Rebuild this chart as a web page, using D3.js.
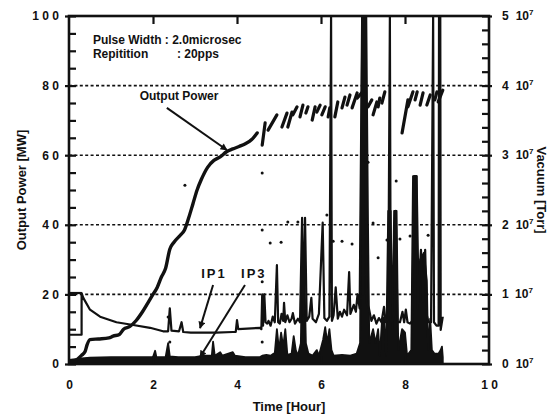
<!DOCTYPE html>
<html><head><meta charset="utf-8">
<script src="https://cdn.jsdelivr.net/npm/d3@7"></script>
<style>
html,body{margin:0;padding:0;background:#fff;}
text{font-family:"Liberation Sans",Arial,sans-serif;font-weight:bold;fill:#111;}
</style></head>
<body><svg id="chart" width="552" height="417"></svg>
<script>
// ---------- data ----------
const timeTicks = [0, 2, 4, 6, 8, 10];
const powerTicks = [0, 20, 40, 60, 80, 100];
const vacuumTicks = [0, 1, 2, 3, 4, 5];
const gridValues = [20, 40, 60, 80];

// Output power [MW] – continuous ramp (t [h], P)
const powerRamp = [[0,0.5],[0.15,1],[0.3,2.5],[0.38,3.5],[0.43,5.5],[0.5,7],[0.7,7.2],[0.95,7.5],[1.05,8],[1.2,8.5],[1.3,10],[1.45,10.8],[1.6,12.5],[1.75,15],[1.9,18],[2.0,20],[2.1,22],[2.2,25],[2.3,27.5],[2.4,33],[2.5,35],[2.65,37],[2.75,38.5],[2.85,42],[2.95,46],[3.05,50],[3.15,53],[3.3,56.5],[3.45,58.5],[3.6,59.5],[3.75,61],[3.9,61.8],[4.05,62.5],[4.2,63.3],[4.35,64.5],[4.48,66.4]];

// Output power – sawtooth strokes after 4.5 h: [t0, P0, t1, P1]
const powerStrokes = [[4.60,62.9,4.67,69.3],[4.74,67.2,4.95,71.6],[5.07,68.1,5.19,72.1],[5.21,68.1,5.31,72.4],[5.33,71.6,5.43,73.9],[5.50,71.0,5.57,74.4],[5.64,72.1,5.69,73.9],[5.79,70.1,5.86,73.9],[5.90,72.4,5.98,74.4],[6.02,71.6,6.10,73.9],[6.17,71.0,6.21,73.6],[6.33,71.0,6.40,75.3],[6.50,73.6,6.57,76.7],[6.62,74.4,6.69,77.3],[6.74,73.6,6.86,77.9],[6.86,76.4,7.00,78.4],[7.12,73.9,7.21,75.9],[7.24,71.6,7.33,75.3],[7.36,73.9,7.40,76.4],[7.45,75.0,7.52,78.2],[7.93,66.4,8.07,75.9],[8.07,73.9,8.19,78.2],[8.24,75.9,8.29,78.2],[8.36,74.4,8.43,77.9],[8.52,74.4,8.60,77.3],[8.71,75.9,8.76,78.2],[8.79,75.3,8.90,78.7]];

// Output power – isolated points
const powerDots = [[2.76,51.4],[4.6,54.9],[7.12,58],[7.05,58.6],[7.79,52.6],[6.14,42.8],[5.21,40.8],[5.45,40.8],[7.24,40.5],[4.6,38.5],[4.79,34.8],[5.05,35],[6.29,35.3],[6.5,35.3],[6.74,34.5],[7.36,30.5],[7.57,35.6],[7.88,35.9],[8.12,36.8],[8.55,37],[4.6,23.6],[4.6,6.3],[2.36,13.5],[2.4,6.3]];

// Vacuum [1e-7 Torr] – start segment
const ipStart = [[0,1.02],[0.3,1.02]];

// Vacuum IP1 [1e-7 Torr]
const ip1 = [[0,0.42],[0.3,0.42],[0.3,1.02],[0.34,0.95],[0.5,0.78],[0.74,0.68],[1.13,0.6],[1.53,0.56],[1.93,0.52],[2.24,0.47],[2.36,0.47],[2.4,0.8],[2.44,0.48],[2.62,0.47],[2.68,0.6],[2.72,0.46],[2.9,0.45],[3.12,0.45],[3.5,0.45],[3.9,0.46],[3.97,0.46],[4.0,0.63],[4.03,0.5],[4.55,0.52],[4.58,0.5],[4.6,1.0],[4.62,0.55],[4.65,1.0],[4.68,0.6],[4.72,0.58],[4.75,0.62],[4.8,0.55],[4.85,0.68],[4.9,0.6],[4.95,1.42],[4.98,0.6],[5.02,0.58],[5.06,0.72],[5.1,0.62],[5.12,0.88],[5.15,0.6],[5.2,0.7],[5.25,0.6],[5.3,0.65],[5.33,0.73],[5.38,0.58],[5.45,0.65],[5.5,0.6],[5.55,2.1],[5.58,0.7],[5.62,2.1],[5.66,0.62],[5.72,0.68],[5.77,0.95],[5.8,0.65],[5.88,0.6],[5.95,0.72],[6.04,2.03],[6.08,0.66],[6.14,0.62],[6.2,0.68],[6.24,5.0],[6.26,0.62],[6.3,0.7],[6.35,1.1],[6.4,0.65],[6.45,0.75],[6.5,0.68],[6.55,0.78],[6.62,0.7],[6.67,1.32],[6.7,0.72],[6.78,0.85],[6.83,0.75],[6.87,1.0],[6.92,0.8],[6.98,5.0],[7.0,1.0],[7.03,5.0],[7.06,5.0],[7.08,0.9],[7.14,0.8],[7.2,0.62],[7.26,0.7],[7.32,0.58],[7.38,0.66],[7.44,0.6],[7.5,0.82],[7.54,0.6],[7.6,0.65],[7.64,5.0],[7.66,0.6],[7.7,0.62],[7.74,0.7],[7.78,2.2],[7.82,0.6],[7.88,0.6],[7.94,0.75],[7.98,0.6],[8.02,0.78],[8.06,0.6],[8.12,0.58],[8.17,0.62],[8.22,2.7],[8.27,2.7],[8.3,0.8],[8.38,1.64],[8.43,0.9],[8.48,1.64],[8.52,0.7],[8.56,0.6],[8.62,0.6],[8.67,5.0],[8.69,0.6],[8.75,0.55],[8.8,0.55],[8.81,5.0],[8.84,5.0],[8.85,0.49],[8.9,0.68]];

// Vacuum IP3 [1e-7 Torr]
const ip3 = [[0,0.06],[0.3,0.08],[0.5,0.09],[1,0.1],[1.5,0.1],[2.0,0.1],[2.05,0.19],[2.08,0.1],[2.3,0.1],[2.36,0.3],[2.4,0.11],[2.6,0.1],[3.0,0.1],[3.2,0.12],[3.4,0.12],[3.43,0.32],[3.47,0.12],[3.6,0.17],[3.65,0.12],[3.9,0.17],[3.95,0.12],[4.2,0.1],[4.55,0.1],[4.6,0.12],[4.7,0.13],[4.8,0.12],[4.9,0.16],[4.95,0.5],[5.0,0.2],[5.05,0.45],[5.1,0.25],[5.15,0.5],[5.2,0.13],[5.3,0.15],[5.35,0.4],[5.4,0.2],[5.45,0.12],[5.52,0.3],[5.55,1.45],[5.6,1.45],[5.64,0.3],[5.7,0.15],[5.8,0.12],[5.9,0.2],[5.95,0.12],[6.05,0.35],[6.1,0.53],[6.15,0.3],[6.2,0.5],[6.25,0.2],[6.3,0.12],[6.5,0.13],[6.7,0.12],[6.85,0.15],[6.93,0.3],[6.95,2.2],[6.98,5],[7.08,5],[7.12,2.0],[7.15,0.3],[7.24,0.5],[7.3,0.3],[7.36,0.5],[7.4,0.12],[7.45,0.6],[7.5,0.67],[7.55,0.12],[7.6,2.2],[7.66,2.2],[7.7,0.5],[7.74,2.2],[7.8,2.2],[7.84,0.2],[7.93,0.5],[8.0,0.45],[8.05,0.12],[8.15,0.2],[8.19,2.7],[8.28,2.7],[8.32,1.2],[8.36,1.5],[8.45,1.6],[8.52,1.2],[8.55,0.2],[8.6,0.65],[8.64,0.2],[8.7,0.15],[8.8,0.15],[8.85,0.2],[8.88,0.25],[8.9,0.1]];

// ---------- chart ----------
const svg = d3.select("#chart");
const L = 69, R = 489, T = 16, B = 364;
const x = d3.scaleLinear().domain([0, 10]).range([L, R]);
const yP = d3.scaleLinear().domain([0, 100]).range([B, T]);
const yV = d3.scaleLinear().domain([0, 5]).range([B, T]);
const spaced = d => String(d).split("").join(" ");

svg.append("defs").append("clipPath").attr("id","clip")
  .append("rect").attr("x",L).attr("y",T).attr("width",R-L).attr("height",B-T);
svg.select("defs").append("marker").attr("id","arrow").attr("viewBox","0 0 10 10")
  .attr("refX",9).attr("refY",5).attr("markerWidth",9).attr("markerHeight",7)
  .attr("markerUnits","userSpaceOnUse").attr("orient","auto")
  .append("path").attr("d","M0,0 L10,5 L0,10 z").attr("fill","#111");

// grid
svg.append("g").selectAll("line").data(gridValues).join("line")
  .attr("x1",L).attr("x2",R).attr("y1",d=>yP(d)).attr("y2",d=>yP(d))
  .attr("stroke","#111").attr("stroke-width",1.6).attr("stroke-dasharray","3,2.4");

const plot = svg.append("g").attr("clip-path","url(#clip)");

// IP3 area
plot.append("path").datum(ip3)
  .attr("d", d3.area().x(d=>x(d[0])).y0(yV(0)).y1(d=>yV(d[1])))
  .attr("fill","#111").attr("stroke","#111").attr("stroke-width",1.8).attr("stroke-linejoin","round");

// IP1 line
const lineV = d3.line().x(d=>x(d[0])).y(d=>yV(d[1]));
plot.append("path").datum(ip1).attr("d",lineV)
  .attr("fill","none").attr("stroke","#111").attr("stroke-width",2.2).attr("stroke-linejoin","round");
plot.append("path").datum(ipStart).attr("d",lineV)
  .attr("fill","none").attr("stroke","#111").attr("stroke-width",2.2);

// output power
plot.append("path").datum(powerRamp)
  .attr("d", d3.line().x(d=>x(d[0])).y(d=>yP(d[1])).curve(d3.curveMonotoneX))
  .attr("fill","none").attr("stroke","#111").attr("stroke-width",3.4).attr("stroke-linecap","round");
plot.append("g").selectAll("line").data(powerStrokes).join("line")
  .attr("x1",d=>x(d[0])).attr("y1",d=>yP(d[1])).attr("x2",d=>x(d[2])).attr("y2",d=>yP(d[3]))
  .attr("stroke","#111").attr("stroke-width",3.2).attr("stroke-linecap","round");
plot.append("g").selectAll("circle").data(powerDots).join("circle")
  .attr("cx",d=>x(d[0])).attr("cy",d=>yP(d[1])).attr("r",1.5).attr("fill","#111");

// frame
svg.append("rect").attr("x",L).attr("y",T).attr("width",R-L).attr("height",B-T)
  .attr("fill","none").attr("stroke","#111").attr("stroke-width",2.6);

// left axis: minor inward ticks, labels
const gL = svg.append("g").attr("transform",`translate(${L},0)`)
  .call(d3.axisRight(yP).tickValues(d3.range(0,101,5)).tickSize(7).tickFormat(""));
const gL2 = svg.append("g").attr("transform",`translate(${L},0)`)
  .call(d3.axisLeft(yP).tickValues(powerTicks).tickSize(4).tickPadding(6).tickFormat(spaced));
// right axis
const gR = svg.append("g").attr("transform",`translate(${R},0)`)
  .call(d3.axisLeft(yV).tickValues(d3.range(0,5.01,0.2)).tickSize(7).tickFormat(""));
const gR2 = svg.append("g").attr("transform",`translate(${R},0)`)
  .call(d3.axisRight(yV).tickValues(vacuumTicks).tickSize(3).tickPadding(11).tickFormat(""));
// top & bottom axes
const gT = svg.append("g").attr("transform",`translate(0,${T})`)
  .call(d3.axisBottom(x).tickValues(timeTicks.slice(1,-1)).tickSize(8).tickFormat(""));
const gB = svg.append("g").attr("transform",`translate(0,${B})`)
  .call(d3.axisTop(x).tickValues(timeTicks.slice(1,-1)).tickSize(8).tickFormat(""));
const gB2 = svg.append("g").attr("transform",`translate(0,${B})`)
  .call(d3.axisBottom(x).tickValues(timeTicks).tickSize(0).tickPadding(16).tickFormat(spaced));

[gL,gL2,gR,gR2,gT,gB,gB2].forEach(g=>{
  g.select(".domain").remove();
  g.selectAll(".tick line").attr("stroke","#111").attr("stroke-width",2.2);
  g.selectAll(".tick text").attr("font-size",12).attr("font-family","Liberation Sans, Arial, sans-serif")
    .attr("font-weight","bold").attr("fill","#111");
});

// right labels "n 10^7"
const rl = svg.append("g").selectAll("text").data(vacuumTicks).join("text")
  .attr("x",R+13).attr("y",d=>yV(d)+4).attr("font-size",12);
rl.append("tspan").text(d=>d);
rl.append("tspan").attr("dx",7).text("10");
rl.append("tspan").attr("dy",-5).attr("font-size",8).text("7");

// axis titles
svg.append("text").attr("x",289).attr("y",411).attr("text-anchor","middle").attr("font-size",13).text("Time [Hour]");
svg.append("text").attr("transform",`translate(26,${(T+B)/2}) rotate(-90)`).attr("text-anchor","middle")
  .attr("font-size",13).text("Output Power [MW]");
svg.append("text").attr("transform",`translate(537,${(T+B)/2}) rotate(90)`).attr("text-anchor","middle")
  .attr("font-size",13).text("Vacuum [Torr]");

// annotations
svg.append("text").attr("x",x(0.57)).attr("y",yP(92)).attr("font-size",12).text("Pulse Width : 2.0microsec");
svg.append("text").attr("x",x(0.57)).attr("y",yP(88)).attr("font-size",12).text("Repitition");
svg.append("text").attr("x",x(2.57)).attr("y",yP(88)).attr("font-size",12).text(": 20pps");
svg.append("text").attr("x",x(2.62)).attr("y",yP(75.9)).attr("text-anchor","middle").attr("font-size",12).text("Output Power");
svg.append("text").attr("x",x(3.45)).attr("y",yP(24.7)).attr("text-anchor","middle").attr("font-size",13).attr("letter-spacing",2).text("IP1");
svg.append("text").attr("x",x(4.4)).attr("y",yP(24.7)).attr("text-anchor","middle").attr("font-size",13).attr("letter-spacing",2).text("IP3");

const arrows = [[2.33,73.6,3.76,61.5],[3.43,22.7,3.12,10.3],[4.19,22.7,3.12,2.0]];
svg.append("g").selectAll("line").data(arrows).join("line")
  .attr("x1",d=>x(d[0])).attr("y1",d=>yP(d[1])).attr("x2",d=>x(d[2])).attr("y2",d=>yP(d[3]))
  .attr("stroke","#111").attr("stroke-width",2).attr("marker-end","url(#arrow)");
</script></body></html>
